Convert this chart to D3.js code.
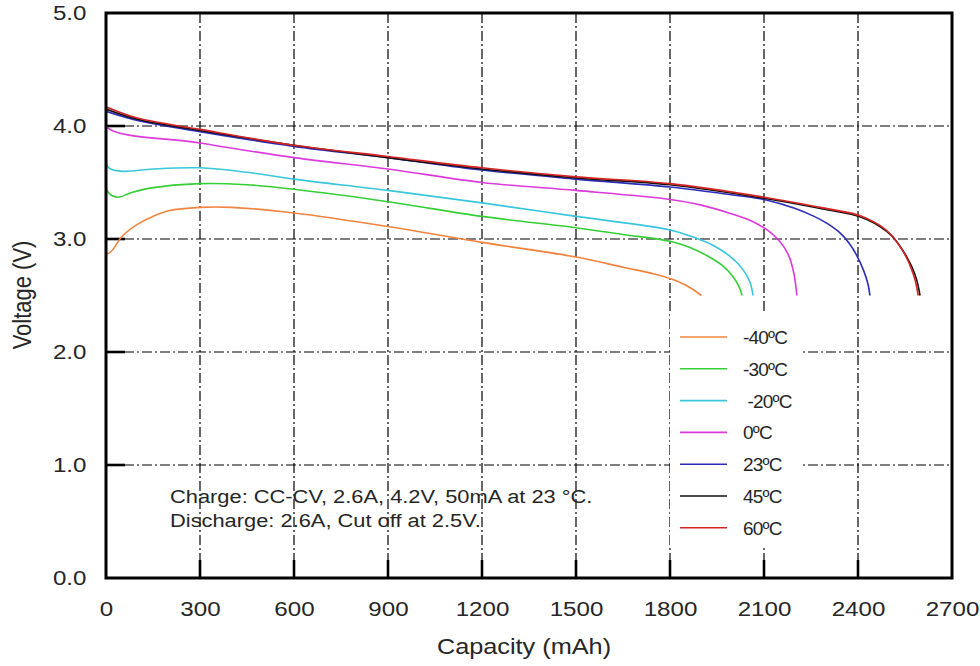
<!DOCTYPE html>
<meta charset='utf-8'>
<head>
    <title>Discharge at temperatures</title>
    <script src='https://cdn.jsdelivr.net/npm/d3@7'></script>
</head>

<style>
    body { margin: 0; background: #fff; }
    text { font-family: 'Liberation Sans', Arial, sans-serif; fill: #262626; }
    .grid line { stroke: #000; stroke-width: 1.2px; stroke-dasharray: 10,3,2,3; }
    .curve { fill: none; stroke-width: 1.6px; }
</style>

<svg></svg>

<script>
    var vWidth = 980;
    var vHeight = 666;

    // tick values
    var xTicks = [0, 300, 600, 900, 1200, 1500, 1800, 2100, 2400, 2700];
    var yTicks = [0, 1, 2, 3, 4, 5];

    // series names and colours
    var temps = ['-40ºC', '-30ºC', ' -20ºC', '0ºC', '23ºC', '45ºC', '60ºC'];
    var colors = ['#f0843f', '#35cf35', '#38c6dc', '#dc3adc', '#2c2cb8', '#111111', '#d42424'];

    // [capacity mAh, voltage V]
    var curveM40 = [[0, 3.35], [4, 2.87], [20, 2.9], [50, 3.02], [100, 3.13], [150, 3.2], [200, 3.25],
        [300, 3.28], [400, 3.28], [600, 3.23], [900, 3.11], [1200, 2.97], [1500, 2.84], [1650, 2.75],
        [1750, 2.69], [1820, 2.63], [1870, 2.56], [1900, 2.5]];
    var curveM30 = [[0, 3.65], [5, 3.42], [38, 3.37], [80, 3.41], [140, 3.45], [300, 3.49], [450, 3.48],
        [600, 3.44], [900, 3.33], [1200, 3.2], [1500, 3.1], [1650, 3.04], [1800, 2.98], [1860, 2.93],
        [1920, 2.85], [1965, 2.77], [2000, 2.67], [2020, 2.58], [2030, 2.5]];
    var curveM20 = [[0, 4.12], [6, 3.64], [50, 3.6], [150, 3.62], [300, 3.63], [450, 3.59], [600, 3.53],
        [900, 3.43], [1200, 3.32], [1500, 3.2], [1800, 3.08], [1880, 3.01], [1940, 2.94], [1990, 2.85],
        [2030, 2.74], [2055, 2.62], [2065, 2.5]];
    var curve0 = [[0, 4.15], [3, 3.99], [300, 3.85], [600, 3.72], [900, 3.62], [1200, 3.5], [1500, 3.43],
        [1800, 3.35], [1900, 3.3], [2000, 3.22], [2060, 3.16], [2110, 3.08], [2150, 2.98], [2178, 2.86],
        [2195, 2.7], [2205, 2.5]];
    var curve23 = [[0, 4.13], [100, 4.05], [300, 3.95], [600, 3.82], [900, 3.72], [1200, 3.61], [1500, 3.53],
        [1800, 3.46], [2000, 3.39], [2100, 3.35], [2200, 3.27], [2260, 3.2], [2300, 3.14], [2340, 3.06],
        [2370, 2.97], [2395, 2.86], [2418, 2.72], [2432, 2.6], [2438, 2.5]];
    var curve45 = [[0, 4.15], [100, 4.06], [300, 3.96], [600, 3.83], [900, 3.72], [1200, 3.62], [1500, 3.54],
        [1800, 3.48], [2100, 3.36], [2280, 3.27], [2390, 3.21], [2430, 3.17], [2470, 3.11], [2507, 3.03],
        [2533, 2.94], [2556, 2.84], [2574, 2.74], [2588, 2.63], [2598, 2.5]];
    var curve60 = [[0, 4.17], [100, 4.07], [300, 3.97], [600, 3.83], [900, 3.73], [1200, 3.63], [1500, 3.55],
        [1800, 3.49], [2100, 3.37], [2280, 3.28], [2390, 3.22], [2430, 3.18], [2470, 3.12], [2505, 3.04],
        [2530, 2.95], [2552, 2.85], [2570, 2.74], [2583, 2.63], [2592, 2.5]];
    var curves = [curveM40, curveM30, curveM20, curve0, curve23, curve45, curve60];

    var noteLines = ['Charge: CC-CV, 2.6A, 4.2V, 50mA at 23 °C.', 'Discharge: 2.6A, Cut off at 2.5V.'];

    // Prepare our physical space
    var svg = d3.select('svg').attr('width', vWidth).attr('height', vHeight);
    var m = {left: 106, top: 13, right: 952, bottom: 578};
    var stretch = 'scale(1.15,1)';

    var x = d3.scaleLinear().domain([0, 2700]).range([m.left, m.right]);
    var y = d3.scaleLinear().domain([0, 5]).range([m.bottom, m.top]);

    svg.append('clipPath').attr('id', 'plot').append('rect')
        .attr('x', m.left).attr('y', m.top)
        .attr('width', m.right - m.left).attr('height', m.bottom - m.top);

    // grid (dash-dot)
    var grid = svg.append('g').attr('class', 'grid');
    grid.selectAll('.gx').data(xTicks.slice(1, -1)).enter().append('line')
        .attr('x1', function (d) { return x(d); }).attr('x2', function (d) { return x(d); })
        .attr('y1', m.top).attr('y2', m.bottom);
    grid.selectAll('.gy').data(yTicks.slice(1, -1)).enter().append('line')
        .attr('y1', function (d) { return y(d); }).attr('y2', function (d) { return y(d); })
        .attr('x1', m.left).attr('x2', m.right);

    // inner tick marks
    svg.append('g').selectAll('line').data(xTicks.slice(1, -1)).enter().append('line')
        .attr('x1', function (d) { return x(d); }).attr('x2', function (d) { return x(d); })
        .attr('y1', m.bottom).attr('y2', m.bottom - 18)
        .attr('stroke', '#000').attr('stroke-width', 2.6);
    svg.append('g').selectAll('line').data(yTicks.slice(1, -1)).enter().append('line')
        .attr('y1', function (d) { return y(d); }).attr('y2', function (d) { return y(d); })
        .attr('x1', m.left).attr('x2', m.left + 19)
        .attr('stroke', '#000').attr('stroke-width', 2.6);

    // annotation over the grid
    svg.append('g').selectAll('text').data(noteLines).enter().append('text')
        .attr('transform', function (d, i) { return 'translate(170,' + (503 + i * 24) + ') ' + stretch; })
        .attr('font-size', 19)
        .text(function (d) { return d; });

    // legend with white backing
    var legend = svg.append('g');
    legend.append('rect').attr('x', 670).attr('y', 314).attr('width', 133).attr('height', 231)
        .attr('fill', '#fff');
    var rows = legend.selectAll('g').data(temps).enter().append('g')
        .attr('transform', function (d, i) { return 'translate(0,' + (337 + i * 31.8) + ')'; });
    rows.append('line').attr('x1', 680).attr('x2', 727).attr('y1', 0).attr('y2', 0)
        .attr('stroke', function (d, i) { return colors[i]; }).attr('stroke-width', 1.6);
    rows.append('text').attr('x', 743).attr('y', 7).attr('font-size', 19)
        .style('white-space', 'pre').attr('letter-spacing', -0.8)
        .text(function (d) { return d; });

    // curves
    var line = d3.line()
        .x(function (d) { return x(d[0]); })
        .y(function (d) { return y(d[1]); })
        .curve(d3.curveCatmullRom.alpha(0.5));
    svg.append('g').attr('clip-path', 'url(#plot)')
        .selectAll('path').data(curves).enter().append('path')
        .attr('class', 'curve')
        .attr('stroke', function (d, i) { return colors[i]; })
        .attr('d', line);

    // frame
    svg.append('rect').attr('x', m.left).attr('y', m.top)
        .attr('width', m.right - m.left).attr('height', m.bottom - m.top)
        .attr('fill', 'none').attr('stroke', '#000').attr('stroke-width', 3);

    // axes labels
    var xAxis = svg.append('g').attr('transform', 'translate(0,' + m.bottom + ')')
        .call(d3.axisBottom(x).tickValues(xTicks).tickSize(0).tickPadding(23).tickFormat(d3.format('d')));
    var yAxis = svg.append('g').attr('transform', 'translate(' + m.left + ',0)')
        .call(d3.axisLeft(y).tickValues(yTicks).tickSize(0).tickPadding(17).tickFormat(d3.format('.1f')));
    [xAxis, yAxis].forEach(function (a) {
        a.select('.domain').remove();
        a.selectAll('text').attr('font-size', 21).attr('font-family', null)
            .attr('fill', null).attr('transform', stretch);
    });

    // axis titles
    svg.append('text').attr('transform', 'translate(524,654) ' + stretch)
        .attr('text-anchor', 'middle').attr('font-size', 22).text('Capacity (mAh)');
    svg.append('text').attr('transform', 'translate(31,295) rotate(-90) scale(1,1.15)')
        .attr('text-anchor', 'middle').attr('font-size', 22).text('Voltage (V)');
</script>
